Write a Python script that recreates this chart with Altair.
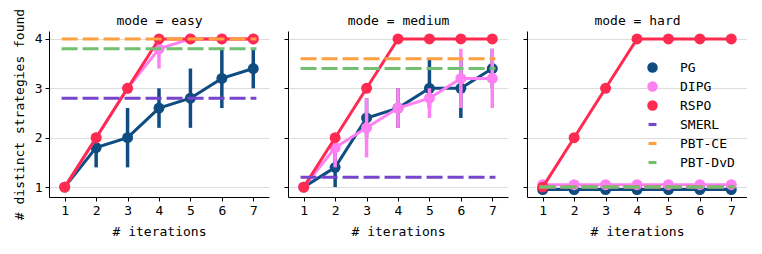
import altair as alt
import pandas as pd

FONT = "DejaVu Sans Mono"

iters = [1, 2, 3, 4, 5, 6, 7]
modes = ["easy", "medium", "hard"]
methods = ["PG", "DIPG", "RSPO", "SMERL", "PBT-CE", "PBT-DvD"]
colors = ["#0f4c81", "#ff80f2", "#ff2a50", "#7744cc", "#ffa040", "#72bf72"]

# mean and confidence interval per mode / method
pg_mean = {"easy": [1.0, 1.8, 2.0, 2.6, 2.8, 3.2, 3.4],
           "medium": [1.0, 1.4, 2.4, 2.6, 3.0, 3.0, 3.4],
           "hard": [0.95, 0.95, 0.95, 0.95, 0.95, 0.95, 0.95]}
pg_lo = {"easy": [1.0, 1.4, 1.4, 2.2, 2.2, 2.6, 3.0],
         "medium": [1.0, 1.0, 2.0, 2.2, 2.6, 2.4, 3.0],
         "hard": [0.95, 0.95, 0.95, 0.95, 0.95, 0.95, 0.95]}
pg_hi = {"easy": [1.0, 2.0, 2.6, 3.0, 3.4, 3.8, 3.8],
         "medium": [1.0, 1.8, 2.8, 3.0, 3.6, 3.6, 3.8],
         "hard": [0.95, 0.95, 0.95, 0.95, 0.95, 0.95, 0.95]}

dipg_mean = {"easy": [1.0, 2.0, 3.0, 3.8, 4.0, 4.0, 4.0],
             "medium": [1.0, 1.8, 2.2, 2.6, 2.8, 3.2, 3.2],
             "hard": [1.05, 1.05, 1.05, 1.05, 1.05, 1.05, 1.05]}
dipg_lo = {"easy": [1.0, 2.0, 3.0, 3.4, 4.0, 4.0, 4.0],
           "medium": [1.0, 1.4, 1.6, 2.2, 2.4, 2.6, 2.6],
           "hard": [1.05, 1.05, 1.05, 1.05, 1.05, 1.05, 1.05]}
dipg_hi = {"easy": [1.0, 2.0, 3.0, 4.0, 4.0, 4.0, 4.0],
           "medium": [1.0, 2.0, 2.8, 3.0, 3.0, 3.8, 3.8],
           "hard": [1.05, 1.05, 1.05, 1.05, 1.05, 1.05, 1.05]}

rspo_mean = {"easy": [1, 2, 3, 4, 4, 4, 4],
             "medium": [1, 2, 3, 4, 4, 4, 4],
             "hard": [1, 2, 3, 4, 4, 4, 4]}

smerl = {"easy": 2.8, "medium": 1.2, "hard": 1.0}
pbt_ce = {"easy": 4.0, "medium": 3.6, "hard": 1.0}
pbt_dvd = {"easy": 3.8, "medium": 3.4, "hard": 1.0}

rows = []
for md in modes:
    for i, it in enumerate(iters):
        rows.append(dict(mode=md, method="PG", iter=it, value=pg_mean[md][i], lo=pg_lo[md][i], hi=pg_hi[md][i]))
        rows.append(dict(mode=md, method="DIPG", iter=it, value=dipg_mean[md][i], lo=dipg_lo[md][i], hi=dipg_hi[md][i]))
        rows.append(dict(mode=md, method="RSPO", iter=it, value=rspo_mean[md][i], lo=rspo_mean[md][i], hi=rspo_mean[md][i]))
df = pd.DataFrame(rows)

brows = []
for md in modes:
    brows.append(dict(mode=md, method="SMERL", value=smerl[md], x0=0.9, x1=7.1))
    brows.append(dict(mode=md, method="PBT-CE", value=pbt_ce[md], x0=0.9, x1=7.1))
    brows.append(dict(mode=md, method="PBT-DvD", value=pbt_dvd[md], x0=0.9, x1=7.1))
bdf = pd.DataFrame(brows)

bar = "M-0.75,-0.3H0.75V0.3H-0.75Z"
color_scale = alt.Scale(domain=methods, range=colors)
shape_scale = alt.Scale(domain=methods, range=["circle", "circle", "circle", bar, bar, bar])

xs = alt.Scale(domain=[0.5, 7.5], nice=False, zero=False)
ys = alt.Scale(domain=[0.8, 4.16], nice=False, zero=False)

W, H = 220, 166


def panel(md, first):
    d = df[df["mode"] == md]
    b = bdf[bdf["mode"] == md]
    xax = alt.Axis(values=iters, title="# iterations", grid=False, format="d")
    yax = alt.Axis(values=[1, 2, 3, 4], title="# distinct strategies found" if first else None,
                   labels=first, grid=True, format="d")
    topax = alt.Axis(orient="top", title=f"mode = {md}", labels=False, ticks=False,
                     domain=False, grid=False, titlePadding=4)
    x = alt.X("iter:Q", scale=xs, axis=xax)
    y = alt.Y("value:Q", scale=ys, axis=yax)
    col = alt.Color("method:N", scale=color_scale, title=None,
                    legend=alt.Legend(orient="none", legendX=2 * (W + 19) + 119, legendY=30,
                                      symbolSize=110, labelOffset=21, rowPadding=5,
                                      labelFont=FONT, labelFontSize=13, symbolStrokeWidth=0,
                                      symbolOpacity=1))
    shp = alt.Shape("method:N", scale=shape_scale, title=None)
    layers = []
    for m in ["PG", "DIPG", "RSPO"]:
        dm = d[d["method"] == m]
        err = dm[dm["lo"] != dm["hi"]]
        base = alt.Chart(dm)
        if len(err):
            layers.append(alt.Chart(err).mark_rule(strokeWidth=3.5).encode(
                x=x, y=alt.Y("lo:Q", scale=ys, axis=yax), y2="hi:Q", color=col))
        layers.append(base.mark_line(strokeWidth=3).encode(x=x, y=y, color=col))
        layers.append(base.mark_point(filled=True, size=120, opacity=1).encode(
            x=x, y=y, color=col, shape=shp))
    layers.append(alt.Chart(b).mark_rule(strokeWidth=3, strokeDash=[16, 5]).encode(
        x=alt.X("x0:Q", scale=xs, axis=xax), x2="x1:Q",
        y=alt.Y("value:Q", scale=ys, axis=yax), color=col))
    main = alt.layer(*layers)
    top = alt.Chart(d).mark_point(opacity=0).encode(
        x=alt.X("iter:Q", scale=xs, axis=topax), y=alt.Y("value:Q", scale=ys, axis=yax))
    return alt.layer(main, top).resolve_axis(x="independent").properties(width=W, height=H)


chart = alt.hconcat(panel("easy", True), panel("medium", False), panel("hard", False),
                    spacing=19, bounds="flush").properties(
    padding={"left": 5, "top": 0, "right": 0, "bottom": 0}
).configure_view(stroke=None).configure_axis(
    labelFont=FONT, titleFont=FONT, labelFontSize=13, titleFontSize=13,
    titleFontWeight="normal", domainColor="black", tickColor="black",
    tickSize=4, labelColor="black", titleColor="black", gridColor="#dddddd",
    labelPadding=3
).configure_axisY(titlePadding=8).configure_axisX(titlePadding=8)

chart.save("out.html", embed_options={"renderer": "svg", "actions": False})
